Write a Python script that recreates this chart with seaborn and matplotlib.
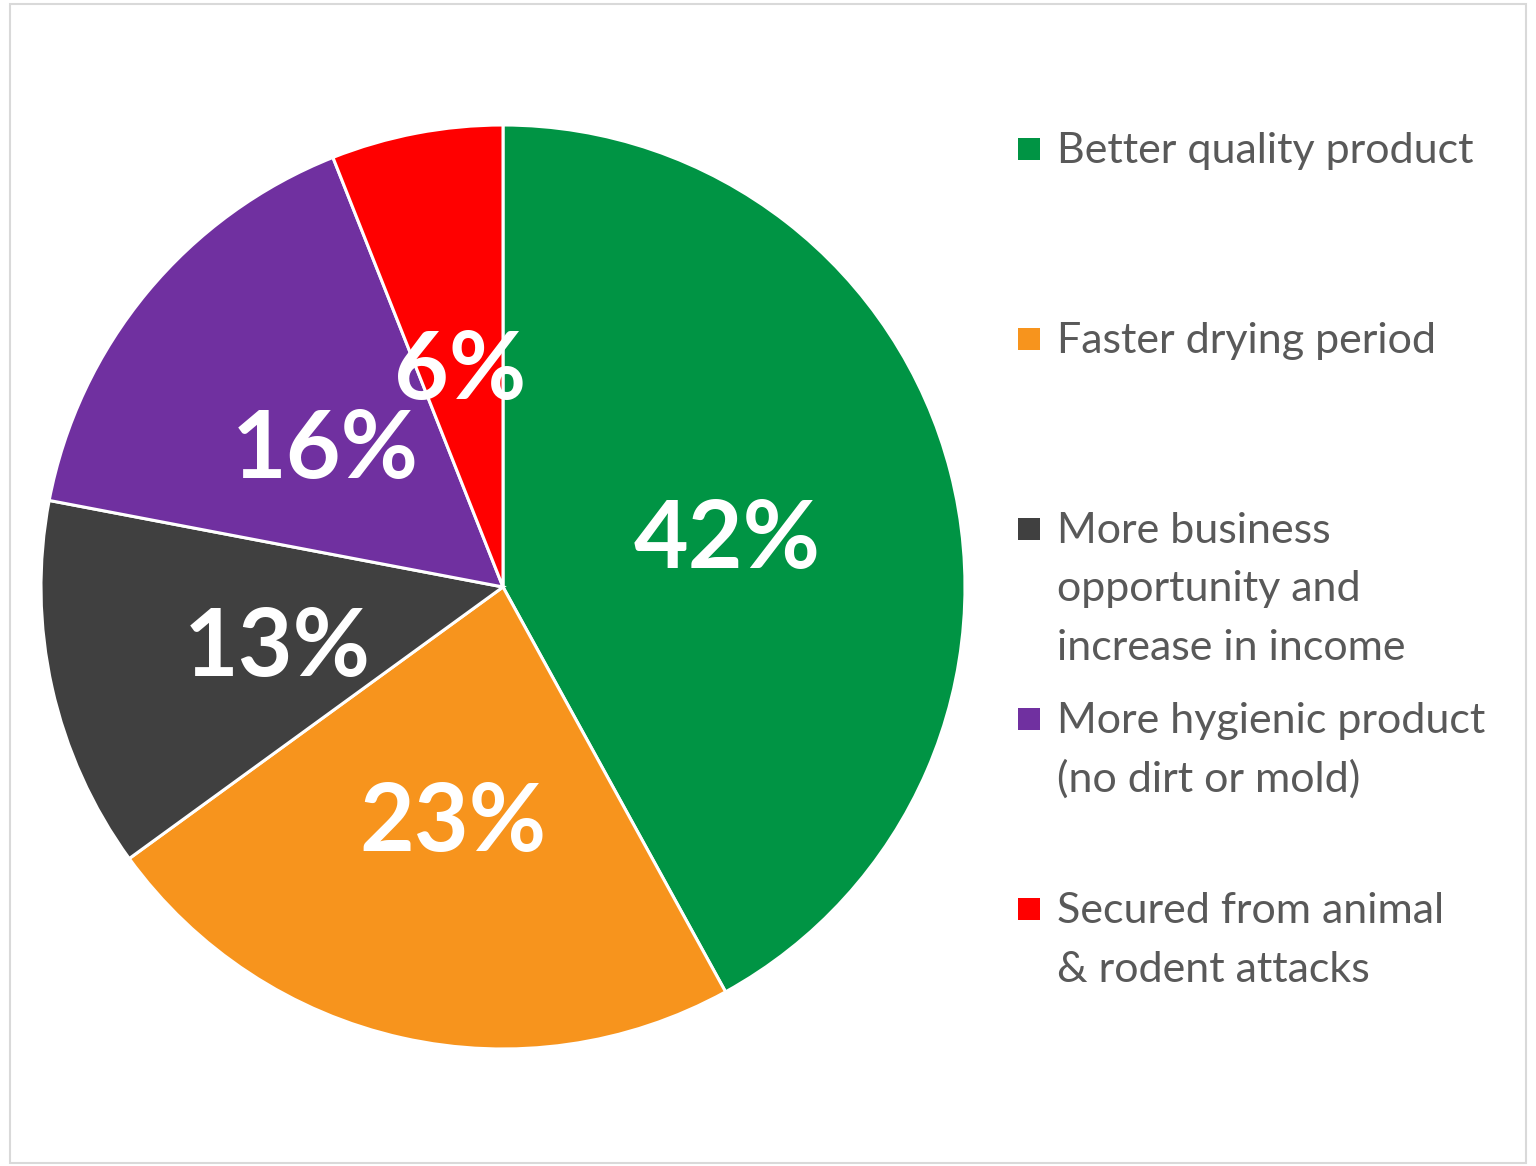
import matplotlib
matplotlib.use("Agg")
import matplotlib.pyplot as plt
from matplotlib.patches import Rectangle
import seaborn as sns

# Survey responses: perceived benefits of the improved drying method
categories = [
    "Better quality product",
    "Faster drying period",
    "More business\nopportunity and\nincrease in income",
    "More hygienic product\n(no dirt or mold)",
    "Secured from animal\n& rodent attacks",
]
shares = [42, 23, 13, 16, 6]
slice_colors = ["#009444", "#F7941D", "#404040", "#7030A0", "#FF0000"]

sns.set_theme(style="white")
plt.rcParams["font.family"] = ["Lato", "DejaVu Sans"]

W, H = 1536, 1166
fig = plt.figure(figsize=(W / 100, H / 100), dpi=100)
fig.patch.set_facecolor("white")

# outer frame
fig.add_artist(Rectangle((10 / W, 1 - 1163 / H), 1516 / W, 1159 / H,
                         transform=fig.transFigure, fill=False,
                         edgecolor="#D9D9D9", linewidth=1.5))

cx, cy, r = 503, 587, 462
ax = fig.add_axes([(cx - r) / W, (H - cy - r) / H, 2 * r / W, 2 * r / H])
palette = sns.color_palette(slice_colors)
wedges, texts, autotexts = ax.pie(
    shares, colors=palette, startangle=90, counterclock=False,
    radius=1.0, autopct=lambda p: f"{p:.0f}%", pctdistance=0.5,
    wedgeprops=dict(edgecolor="white", linewidth=2.2),
    textprops=dict(color="white", fontsize=68, fontweight="bold"),
)
# nudge labels so the digits (not the full line box) sit on the anchor
for t in autotexts:
    x, y = t.get_position()
    t.set_position((x, y - 0.025))

ax.set_xlim(-1.0, 1.0)
ax.set_ylim(-1.0, 1.0)
ax.set_aspect("equal")
ax.axis("off")

# legend drawn as entries at fixed pitch
first_baseline = 163
pitch = 190
line_gap = 58.5
sq = 22
for i, (label, col) in enumerate(zip(categories, slice_colors)):
    base = first_baseline + i * pitch
    fig.add_artist(Rectangle((1018 / W, 1 - (base - 3) / H), sq / W, sq / H,
                             transform=fig.transFigure, facecolor=col,
                             edgecolor="none"))
    for k, line in enumerate(label.split("\n")):
        fig.text(1057 / W, 1 - (base + k * line_gap) / H, line,
                 fontsize=31, color="#595959", ha="left", va="baseline")

fig.savefig("out.png", dpi=100, facecolor="white")
